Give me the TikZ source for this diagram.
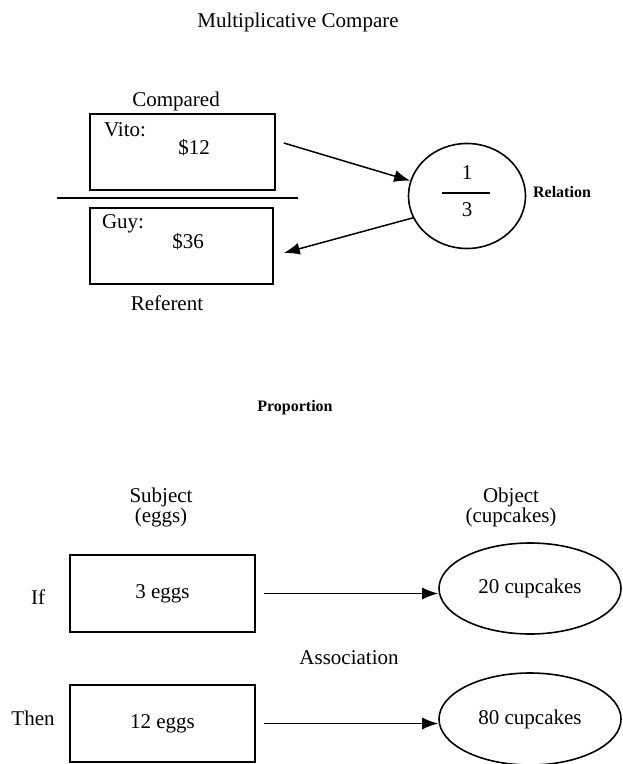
\documentclass[tikz,border=0pt]{standalone}
\usepackage{fontspec}
\setmainfont{Liberation Serif}
\usetikzlibrary{arrows.meta,shapes.geometric}
\tikzset{
  valbox/.style={draw,line width=0.8pt,rectangle,inner sep=0pt},
  ovalnode/.style={draw,line width=0.8pt,ellipse,inner sep=0pt},
  arr/.style={line width=0.75pt,-{Latex[length=8pt,width=6pt]}},
  lbl/.style={inner sep=1pt,font=\fontsize{10.5}{10}\selectfont},
  small/.style={inner sep=1pt,font=\fontsize{8}{9}\selectfont\bfseries}
}
\begin{document}
\begin{tikzpicture}[x=0.5pt,y=-0.5pt]
\useasboundingbox (0,0) rectangle (622,764);

% multiplicative compare
\node[lbl] (title) at (298,22) {Multiplicative Compare};
\node[lbl] (cmp) at (176,101) {Compared};
\node[valbox,minimum width=92.5pt,minimum height=38pt] (vbox) at (182.5,152) {};
\node[lbl] (vito) at (125,130) {Vito:};
\node[lbl] (v12) at (194,148) {\$12};
\draw[line width=0.8pt] (57,198)--(298,198);
\node[valbox,minimum width=91.5pt,minimum height=38pt] (gbox) at (181.5,246) {};
\node[lbl] (guy) at (123,224) {Guy:};
\node[lbl] (g36) at (188,242) {\$36};
\node[lbl] (refr) at (167,303) {Referent};

\node[ovalnode,minimum width=58.5pt,minimum height=52.5pt] (rel) at (467,196) {};
\node[lbl] (one) at (467,173) {1};
\draw[line width=0.7pt] (442,193)--(490,193);
\node[lbl] (three) at (467,210) {3};
\node[small] (reltxt) at (562,192) {Relation};

\draw[arr] ([shift={(8,-9)}]vbox.east) -- (rel.165);
\draw[arr] (rel.202) -- ([shift={(10,7)}]gbox.east);

% proportion
\node[small] (prop) at (295,408) {Proportion};
\node[lbl,align=center] (subj) at (161,507) {Subject\\(eggs)};
\node[lbl,align=center] (obj) at (511,507) {Object\\(cupcakes)};

\node[lbl] (iftxt) at (38,597) {If};
\node[valbox,lbl,minimum width=92.5pt,minimum height=38.5pt] (eggs3) at (162.5,593.5) {3 eggs};
\node[ovalnode,lbl,minimum width=91pt,minimum height=45.5pt] (cup20) at (530,588.5) {20 cupcakes};
\draw[arr] ([xshift=4pt]eggs3.east) -- (eggs3.east -| cup20.west);

\node[lbl] (assoc) at (349,658) {Association};

\node[lbl] (thentxt) at (33,718) {Then};
\node[valbox,lbl,minimum width=92.5pt,minimum height=38.5pt] (eggs12) at (162.5,723.5) {12 eggs};
\node[ovalnode,lbl,minimum width=91pt,minimum height=46pt] (cup80) at (530,719) {80 cupcakes};
\draw[arr] ([xshift=4pt]eggs12.east) -- (eggs12.east -| cup80.west);
\end{tikzpicture}
\end{document}
